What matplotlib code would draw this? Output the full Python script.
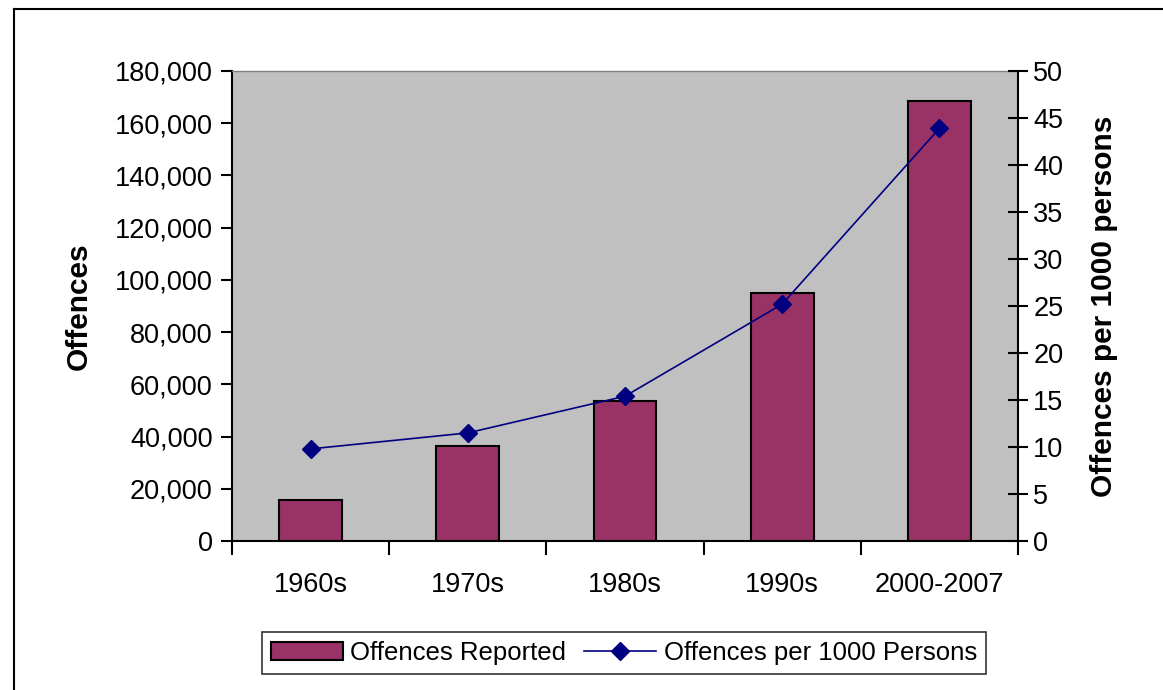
import matplotlib
matplotlib.use("Agg")
import matplotlib.pyplot as plt
from matplotlib.lines import Line2D
from matplotlib.ticker import FuncFormatter, MultipleLocator
import numpy as np

plt.rcParams['font.family'] = ['Liberation Sans', 'DejaVu Sans']

# data
decades = ['1960s', '1970s', '1980s', '1990s', '2000-2007']
offences = [15700, 36400, 53600, 95000, 168500]
per_1000 = [9.8, 11.5, 15.4, 25.2, 43.9]

fig = plt.figure(figsize=(11.63, 6.90), dpi=100)
ax = fig.add_axes([232 / 1163, 1 - 541 / 690, 786 / 1163, 470 / 690])
ax.set_facecolor('#C0C0C0')

x = np.arange(len(decades))
bars = ax.bar(x, offences, width=0.4, color='#993366', edgecolor='black',
              linewidth=1.5, label='Offences Reported', zorder=2)
ax.set_xlim(-0.5, len(decades) - 0.5)
ax.set_ylim(0, 180000)
ax.yaxis.set_major_locator(MultipleLocator(20000))
ax.yaxis.set_major_formatter(FuncFormatter(lambda v, p: f'{int(v):,}'))
ax.set_xticks(x)
ax.set_xticklabels(decades)
ax.set_xticks(np.arange(len(decades) + 1) - 0.5, minor=True)
ax.tick_params(axis='x', which='major', length=0, pad=22, labelsize=19.5)
ax.tick_params(axis='x', which='minor', length=10, width=1.5, direction='out')
ax.tick_params(axis='y', length=8, width=1.5, direction='out', labelsize=19.5, pad=6)
ax.set_ylabel('Offences', fontsize=21.5, fontweight='bold', labelpad=16)

for s in ['left', 'bottom']:
    ax.spines[s].set_linewidth(1.5)
ax.spines['top'].set_color('#808080')
ax.spines['top'].set_linewidth(1)
ax.spines['right'].set_visible(False)

ax2 = ax.twinx()
line, = ax2.plot(x, per_1000, color='#000080', marker='D', markersize=9,
                 linewidth=1.2, label='Offences per 1000 Persons', zorder=3)
ax2.set_ylim(0, 50)
ax2.yaxis.set_major_locator(MultipleLocator(5))
ax2.tick_params(axis='y', length=14, width=1.5, direction='inout', labelsize=19.5, pad=4)
ax2.set_ylabel('Offences per 1000 persons', fontsize=21.5, fontweight='bold', labelpad=19)
ax2.spines['right'].set_linewidth(1.5)
for s in ['top', 'left', 'bottom']:
    ax2.spines[s].set_visible(False)

leg = fig.legend(handles=[bars, line], loc='center', bbox_to_anchor=(624 / 1163, 1 - 653 / 690),
                 ncol=2, fontsize=18.5, frameon=True, fancybox=False, edgecolor='black',
                 handlelength=2.8, handletextpad=0.3, columnspacing=0.7, borderpad=0.35)
leg.get_frame().set_linewidth(1.2)

# outer chart frame (left and top edges visible)
fig.add_artist(Line2D([14 / 1163, 14 / 1163], [0, 1 - 9 / 690], transform=fig.transFigure,
                      color='black', linewidth=1.5))
fig.add_artist(Line2D([14 / 1163, 1], [1 - 9 / 690, 1 - 9 / 690], transform=fig.transFigure,
                      color='black', linewidth=1.5))

fig.savefig('out.png', dpi=100)
